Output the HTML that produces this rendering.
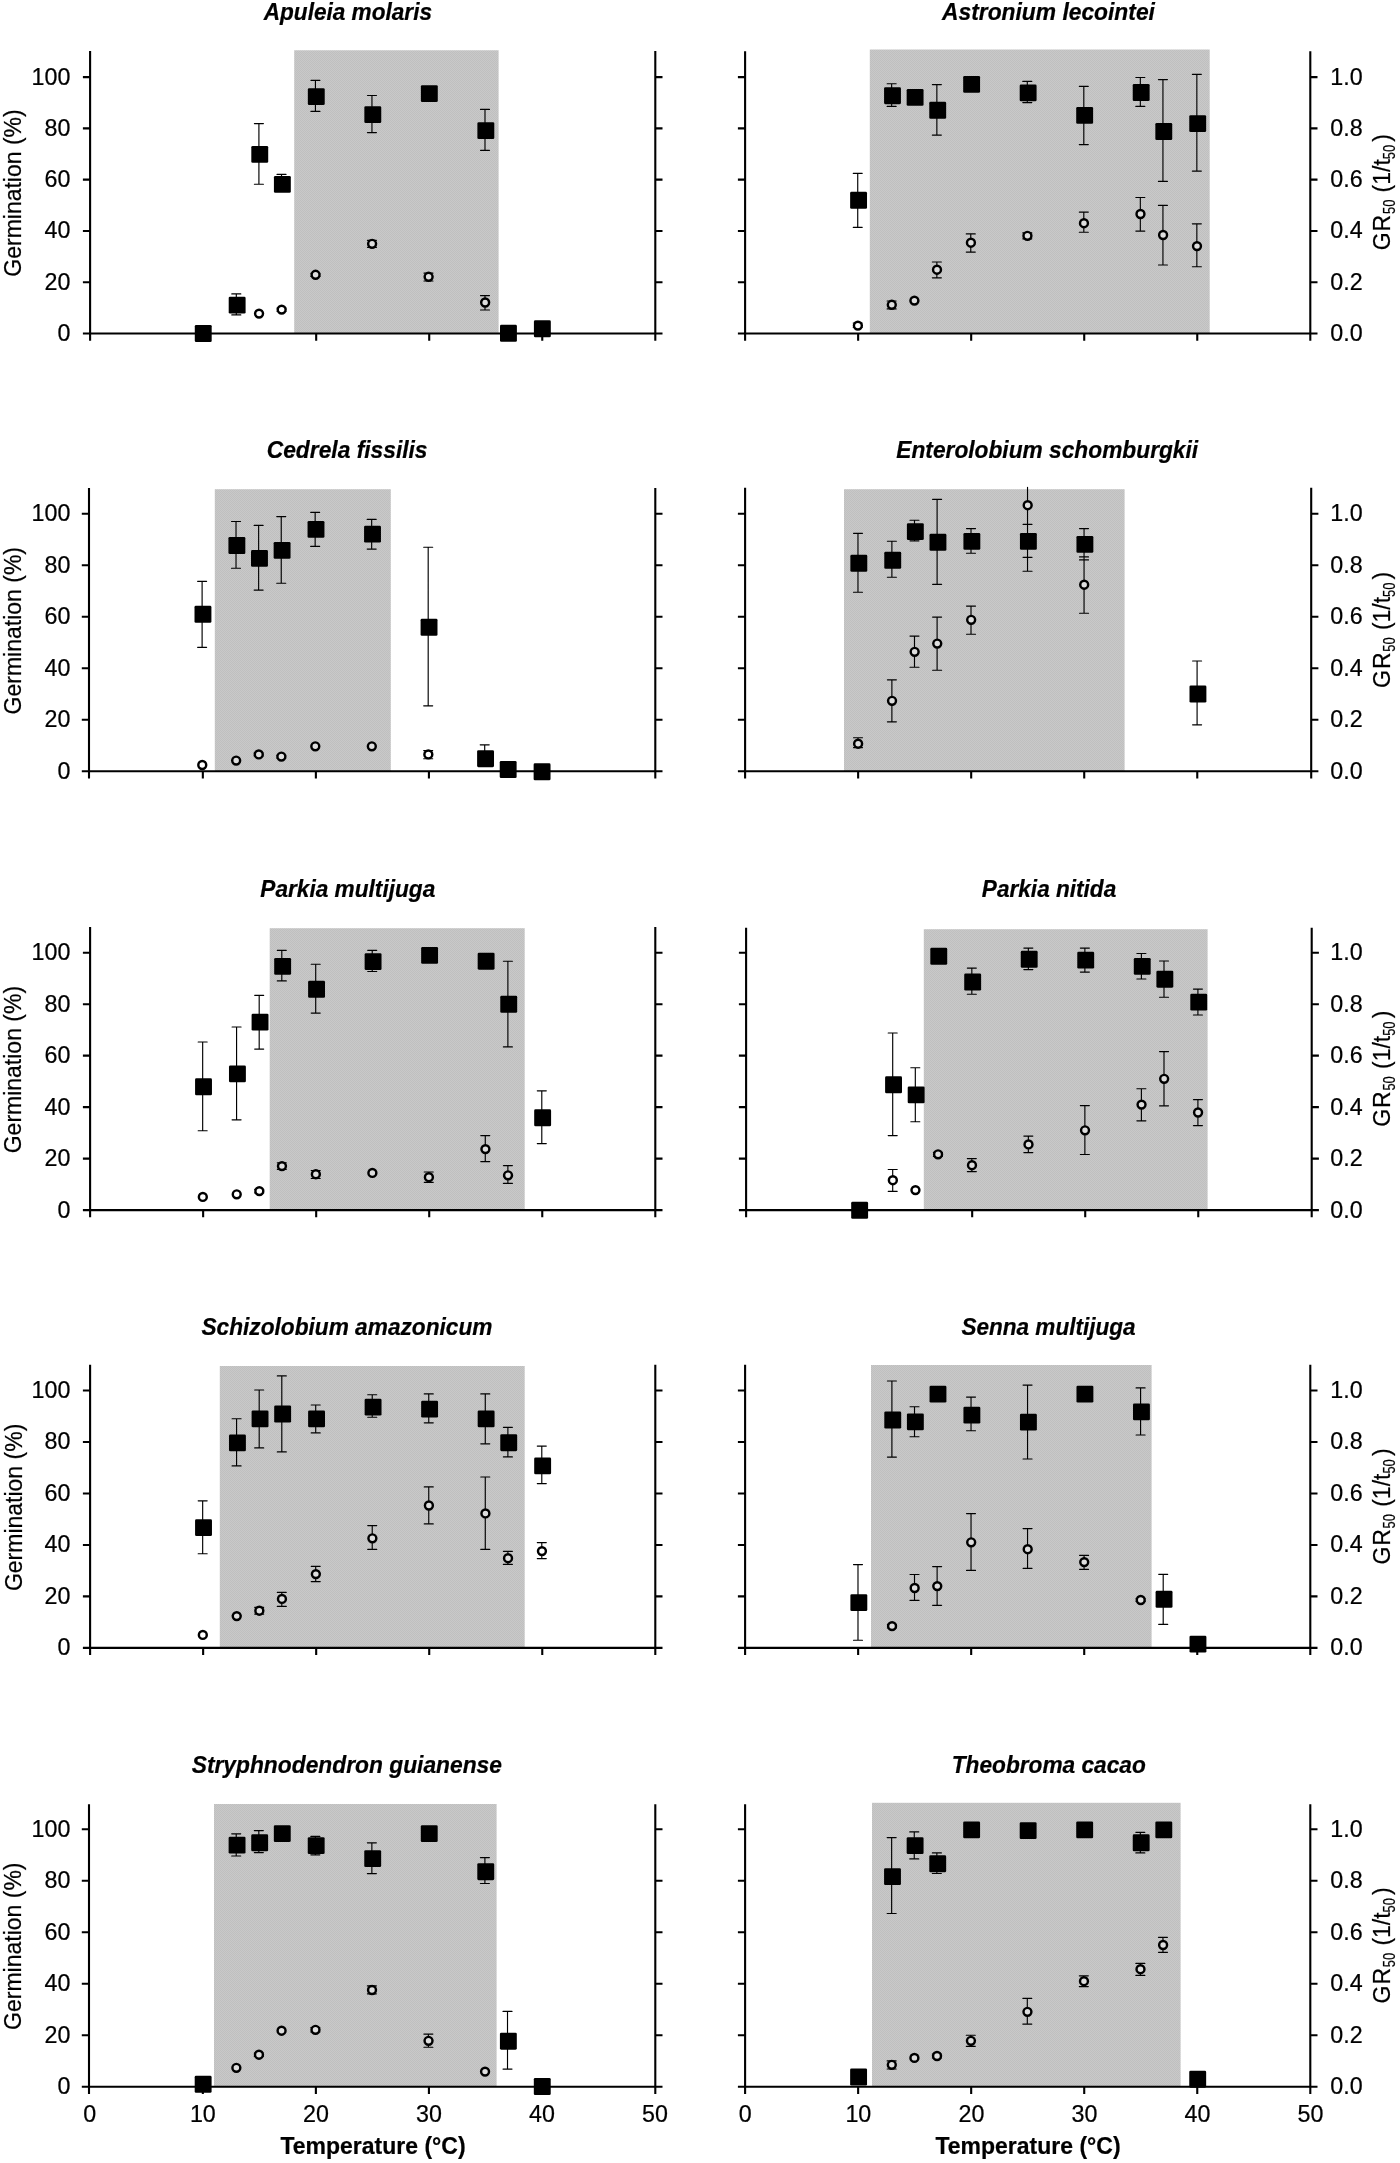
<!DOCTYPE html>
<html><head><meta charset="utf-8"><title>Germination vs temperature</title>
<style>html,body{margin:0;padding:0;background:#fff}svg{display:block}text{font-family:"Liberation Sans",sans-serif;fill:#000;stroke:#000;stroke-width:0.22px}</style>
</head><body>
<svg width="1400" height="2163" viewBox="0 0 1400 2163">
<rect width="1400" height="2163" fill="#fff"/>
<defs><pattern id="dg" width="2" height="2" patternUnits="userSpaceOnUse"><rect width="2" height="2" fill="#c9c9c9"/><rect width="1" height="1" fill="#bfbfbf"/><rect x="1" y="1" width="1" height="1" fill="#bfbfbf"/></pattern></defs>
<filter id="soft" x="0" y="0" width="1400" height="2163" filterUnits="userSpaceOnUse"><feGaussianBlur stdDeviation="0.38"/></filter>
<g filter="url(#soft)">
<g>
<rect x="294.2" y="50.25" width="204.4" height="283.25" fill="url(#dg)"/>
<path d="M90.1 51V340.7M655.3 51V340.7M82.9 333.5H662.5M82.9 282.22H90.1M655.3 282.22H662.5M82.9 230.94H90.1M655.3 230.94H662.5M82.9 179.66H90.1M655.3 179.66H662.5M82.9 128.38H90.1M655.3 128.38H662.5M82.9 77.1H90.1M655.3 77.1H662.5M203.14 333.5V340.7M316.18 333.5V340.7M429.22 333.5V340.7M542.26 333.5V340.7" stroke="#000" stroke-width="2.1" fill="none"/>
<path d="M236.3 293.9V314.9M231.8 293.9H240.8M231.8 314.9H240.8M258.91 123.6V184.2M254.41 123.6H263.41M254.41 184.2H263.41M281.52 174.4V190M277.02 174.4H286.02M277.02 190H286.02M315.43 80.3V111.4M310.93 80.3H319.93M310.93 111.4H319.93M371.95 95.5V132.6M367.45 95.5H376.45M367.45 132.6H376.45M484.99 109.4V150.3M480.49 109.4H489.49M480.49 150.3H489.49M281.52 308V311.2M277.02 308H286.02M277.02 311.2H286.02M315.43 273.2V276.4M310.93 273.2H319.93M310.93 276.4H319.93M371.95 240.3V247.3M367.45 240.3H376.45M367.45 247.3H376.45M428.47 273.1V281M423.97 273.1H432.97M423.97 281H432.97M484.99 295.6V310M480.49 295.6H489.49M480.49 310H489.49" stroke="#000" stroke-width="1.15" stroke-linecap="round" fill="none"/>
<circle cx="259.06" cy="313.6" r="3.95" fill="#fff" stroke="#000" stroke-width="2.45"/>
<circle cx="281.67" cy="309.6" r="3.95" fill="#fff" stroke="#000" stroke-width="2.45"/>
<circle cx="315.58" cy="274.8" r="3.95" fill="#dedede" stroke="#000" stroke-width="2.45"/>
<circle cx="372.1" cy="243.8" r="3.95" fill="#dedede" stroke="#000" stroke-width="2.45"/>
<circle cx="428.62" cy="276.8" r="3.95" fill="#dedede" stroke="#000" stroke-width="2.45"/>
<circle cx="485.14" cy="302.5" r="3.95" fill="#dedede" stroke="#000" stroke-width="2.45"/>
<g fill="#000"><rect x="194.79" y="325.05" width="16.9" height="16.9" rx="1.3"/><rect x="228.7" y="296.65" width="16.9" height="16.9" rx="1.3"/><rect x="251.31" y="145.95" width="16.9" height="16.9" rx="1.3"/><rect x="273.92" y="175.95" width="16.9" height="16.9" rx="1.3"/><rect x="307.83" y="88.15" width="16.9" height="16.9" rx="1.3"/><rect x="364.35" y="106.15" width="16.9" height="16.9" rx="1.3"/><rect x="420.87" y="85.15" width="16.9" height="16.9" rx="1.3"/><rect x="477.39" y="122.15" width="16.9" height="16.9" rx="1.3"/><rect x="500" y="324.85" width="16.9" height="16.9" rx="1.3"/><rect x="533.91" y="320.35" width="16.9" height="16.9" rx="1.3"/></g>
<text transform="translate(347.85,20.2) scale(1,1.045)" font-size="22.61" text-anchor="middle" font-weight="bold" font-style="italic" stroke="#000" stroke-width="0.4">Apuleia molaris</text>
<text transform="translate(70.5,340.9) scale(1,1.045)" font-size="23.3" text-anchor="end">0</text>
<text transform="translate(70.5,289.62) scale(1,1.045)" font-size="23.3" text-anchor="end">20</text>
<text transform="translate(70.5,238.34) scale(1,1.045)" font-size="23.3" text-anchor="end">40</text>
<text transform="translate(70.5,187.06) scale(1,1.045)" font-size="23.3" text-anchor="end">60</text>
<text transform="translate(70.5,135.78) scale(1,1.045)" font-size="23.3" text-anchor="end">80</text>
<text transform="translate(70.5,84.5) scale(1,1.045)" font-size="23.3" text-anchor="end">100</text>
<text transform="translate(21,193) rotate(-90) scale(1,1.045)" font-size="23" text-anchor="middle">Germination (%)</text>
</g>
<g>
<rect x="869.8" y="49.5" width="339.9" height="284" fill="url(#dg)"/>
<path d="M745.1 51.2V340.7M1310.3 51.2V340.7M737.9 333.5H1317.5M737.9 282.22H745.1M1310.3 282.22H1317.5M737.9 230.94H745.1M1310.3 230.94H1317.5M737.9 179.66H745.1M1310.3 179.66H1317.5M737.9 128.38H745.1M1310.3 128.38H1317.5M737.9 77.1H745.1M1310.3 77.1H1317.5M858.14 333.5V340.7M971.18 333.5V340.7M1084.22 333.5V340.7M1197.26 333.5V340.7" stroke="#000" stroke-width="2.1" fill="none"/>
<path d="M857.73 173.3V227.3M853.23 173.3H862.23M853.23 227.3H862.23M891.64 83.7V106.4M887.14 83.7H896.14M887.14 106.4H896.14M936.86 84.6V135.1M932.36 84.6H941.36M932.36 135.1H941.36M1027.29 81.4V102.6M1022.79 81.4H1031.79M1022.79 102.6H1031.79M1083.81 86.3V144.6M1079.31 86.3H1088.31M1079.31 144.6H1088.31M1140.33 77.5V106.4M1135.83 77.5H1144.83M1135.83 106.4H1144.83M1162.94 79.6V181.4M1158.44 79.6H1167.44M1158.44 181.4H1167.44M1196.85 74.3V171.1M1192.35 74.3H1201.35M1192.35 171.1H1201.35M857.73 323V327.2M853.23 323H862.23M853.23 327.2H862.23M891.64 301V308.9M887.14 301H896.14M887.14 308.9H896.14M936.86 262V277.8M932.36 262H941.36M932.36 277.8H941.36M970.77 233.9V252.1M966.27 233.9H975.27M966.27 252.1H975.27M1027.29 232.9V238.8M1022.79 232.9H1031.79M1022.79 238.8H1031.79M1083.81 212.1V232.2M1079.31 212.1H1088.31M1079.31 232.2H1088.31M1140.33 197.5V231.1M1135.83 197.5H1144.83M1135.83 231.1H1144.83M1162.94 205.4V265M1158.44 205.4H1167.44M1158.44 265H1167.44M1196.85 223.8V266.7M1192.35 223.8H1201.35M1192.35 266.7H1201.35" stroke="#000" stroke-width="1.15" stroke-linecap="round" fill="none"/>
<circle cx="857.88" cy="325.6" r="3.95" fill="#fff" stroke="#000" stroke-width="2.45"/>
<circle cx="891.79" cy="304.8" r="3.95" fill="#dedede" stroke="#000" stroke-width="2.45"/>
<circle cx="914.4" cy="300.6" r="3.95" fill="#dedede" stroke="#000" stroke-width="2.45"/>
<circle cx="937.01" cy="269.7" r="3.95" fill="#dedede" stroke="#000" stroke-width="2.45"/>
<circle cx="970.92" cy="242.7" r="3.95" fill="#dedede" stroke="#000" stroke-width="2.45"/>
<circle cx="1027.44" cy="235.8" r="3.95" fill="#dedede" stroke="#000" stroke-width="2.45"/>
<circle cx="1083.96" cy="223.2" r="3.95" fill="#dedede" stroke="#000" stroke-width="2.45"/>
<circle cx="1140.48" cy="214" r="3.95" fill="#dedede" stroke="#000" stroke-width="2.45"/>
<circle cx="1163.09" cy="235" r="3.95" fill="#dedede" stroke="#000" stroke-width="2.45"/>
<circle cx="1197" cy="246.1" r="3.95" fill="#dedede" stroke="#000" stroke-width="2.45"/>
<g fill="#000"><rect x="850.13" y="191.85" width="16.9" height="16.9" rx="1.3"/><rect x="884.04" y="87.25" width="16.9" height="16.9" rx="1.3"/><rect x="906.65" y="88.95" width="16.9" height="16.9" rx="1.3"/><rect x="929.26" y="101.85" width="16.9" height="16.9" rx="1.3"/><rect x="963.17" y="75.95" width="16.9" height="16.9" rx="1.3"/><rect x="1019.69" y="84.45" width="16.9" height="16.9" rx="1.3"/><rect x="1076.21" y="106.95" width="16.9" height="16.9" rx="1.3"/><rect x="1132.73" y="84.05" width="16.9" height="16.9" rx="1.3"/><rect x="1155.34" y="123.05" width="16.9" height="16.9" rx="1.3"/><rect x="1189.25" y="115.15" width="16.9" height="16.9" rx="1.3"/></g>
<text transform="translate(1048.45,20.2) scale(1,1.045)" font-size="22.82" text-anchor="middle" font-weight="bold" font-style="italic" stroke="#000" stroke-width="0.4">Astronium lecointei</text>
<text transform="translate(1330.2,340.9) scale(1,1.045)" font-size="23.3">0.0</text>
<text transform="translate(1330.2,289.62) scale(1,1.045)" font-size="23.3">0.2</text>
<text transform="translate(1330.2,238.34) scale(1,1.045)" font-size="23.3">0.4</text>
<text transform="translate(1330.2,187.06) scale(1,1.045)" font-size="23.3">0.6</text>
<text transform="translate(1330.2,135.78) scale(1,1.045)" font-size="23.3">0.8</text>
<text transform="translate(1330.2,84.5) scale(1,1.045)" font-size="23.3">1.0</text>
<text transform="translate(1390,192.1) rotate(-90) scale(1,1.045)" font-size="23" text-anchor="middle">G<tspan dx="0.9">R</tspan><tspan font-size="15.5" dy="4.9" dx="0.8" textLength="14.3" lengthAdjust="spacingAndGlyphs">50</tspan><tspan dy="-4.9" dx="0.9"> (1/t</tspan><tspan font-size="15.5" dy="4.9" textLength="14.3" lengthAdjust="spacingAndGlyphs">50</tspan><tspan dy="-4.9" dx="3.2">)</tspan></text>
</g>
<g>
<rect x="214.8" y="489.2" width="176" height="282" fill="url(#dg)"/>
<path d="M89 487.9V778.4M655.3 487.9V778.4M81.8 771.2H662.5M81.8 719.72H89M655.3 719.72H662.5M81.8 668.24H89M655.3 668.24H662.5M81.8 616.76H89M655.3 616.76H662.5M81.8 565.28H89M655.3 565.28H662.5M81.8 513.8H89M655.3 513.8H662.5M202.84 771.2V778.4M315.88 771.2V778.4M428.92 771.2V778.4M541.96 771.2V778.4" stroke="#000" stroke-width="2.1" fill="none"/>
<path d="M202.11 581.3V647.3M197.61 581.3H206.61M197.61 647.3H206.61M236.02 521.5V568.2M231.52 521.5H240.52M231.52 568.2H240.52M258.63 525.4V590.1M254.13 525.4H263.13M254.13 590.1H263.13M281.24 516.6V583.2M276.74 516.6H285.74M276.74 583.2H285.74M315.15 512.3V546.4M310.65 512.3H319.65M310.65 546.4H319.65M371.67 519.4V549.1M367.17 519.4H376.17M367.17 549.1H376.17M428.19 547.2V705.8M423.69 547.2H432.69M423.69 705.8H432.69M484.71 744.8V766.2M480.21 744.8H489.21M480.21 766.2H489.21M258.63 753V755.8M254.13 753H263.13M254.13 755.8H263.13M281.24 755.2V758M276.74 755.2H285.74M276.74 758H285.74M428.19 750.6V758.7M423.69 750.6H432.69M423.69 758.7H432.69" stroke="#000" stroke-width="1.15" stroke-linecap="round" fill="none"/>
<circle cx="202.26" cy="765" r="3.95" fill="#fff" stroke="#000" stroke-width="2.45"/>
<circle cx="236.17" cy="760.6" r="3.95" fill="#dedede" stroke="#000" stroke-width="2.45"/>
<circle cx="258.78" cy="754.4" r="3.95" fill="#dedede" stroke="#000" stroke-width="2.45"/>
<circle cx="281.39" cy="756.6" r="3.95" fill="#dedede" stroke="#000" stroke-width="2.45"/>
<circle cx="315.3" cy="746.3" r="3.95" fill="#dedede" stroke="#000" stroke-width="2.45"/>
<circle cx="371.82" cy="746.3" r="3.95" fill="#dedede" stroke="#000" stroke-width="2.45"/>
<circle cx="428.34" cy="754.4" r="3.95" fill="#fff" stroke="#000" stroke-width="2.45"/>
<g fill="#000"><rect x="194.51" y="605.85" width="16.9" height="16.9" rx="1.3"/><rect x="228.42" y="537.05" width="16.9" height="16.9" rx="1.3"/><rect x="251.03" y="549.95" width="16.9" height="16.9" rx="1.3"/><rect x="273.64" y="541.95" width="16.9" height="16.9" rx="1.3"/><rect x="307.55" y="520.95" width="16.9" height="16.9" rx="1.3"/><rect x="364.07" y="525.65" width="16.9" height="16.9" rx="1.3"/><rect x="420.59" y="618.85" width="16.9" height="16.9" rx="1.3"/><rect x="477.11" y="750.25" width="16.9" height="16.9" rx="1.3"/><rect x="499.72" y="761.05" width="16.9" height="16.9" rx="1.3"/><rect x="533.63" y="763.35" width="16.9" height="16.9" rx="1.3"/></g>
<text transform="translate(347.15,457.9) scale(1,1.045)" font-size="22.79" text-anchor="middle" font-weight="bold" font-style="italic" stroke="#000" stroke-width="0.4">Cedrela fissilis</text>
<text transform="translate(70.5,778.6) scale(1,1.045)" font-size="23.3" text-anchor="end">0</text>
<text transform="translate(70.5,727.12) scale(1,1.045)" font-size="23.3" text-anchor="end">20</text>
<text transform="translate(70.5,675.64) scale(1,1.045)" font-size="23.3" text-anchor="end">40</text>
<text transform="translate(70.5,624.16) scale(1,1.045)" font-size="23.3" text-anchor="end">60</text>
<text transform="translate(70.5,572.68) scale(1,1.045)" font-size="23.3" text-anchor="end">80</text>
<text transform="translate(70.5,521.2) scale(1,1.045)" font-size="23.3" text-anchor="end">100</text>
<text transform="translate(21.35,630.7) rotate(-90) scale(1,1.045)" font-size="23" text-anchor="middle">Germination (%)</text>
</g>
<g>
<rect x="844" y="489.2" width="280.6" height="282" fill="url(#dg)"/>
<path d="M745.1 487.8V778.4M1311.2 487.8V778.4M737.9 771.2H1318.4M737.9 719.72H745.1M1311.2 719.72H1318.4M737.9 668.24H745.1M1311.2 668.24H1318.4M737.9 616.76H745.1M1311.2 616.76H1318.4M737.9 565.28H745.1M1311.2 565.28H1318.4M737.9 513.8H745.1M1311.2 513.8H1318.4M858.14 771.2V778.4M971.18 771.2V778.4M1084.22 771.2V778.4M1197.26 771.2V778.4" stroke="#000" stroke-width="2.1" fill="none"/>
<path d="M857.97 533.3V592.2M853.47 533.3H862.47M853.47 592.2H862.47M891.88 541.2V577.2M887.38 541.2H896.38M887.38 577.2H896.38M914.49 520.2V540.8M909.99 520.2H918.99M909.99 540.8H918.99M937.1 499.4V584.3M932.6 499.4H941.6M932.6 584.3H941.6M971.01 528.6V553.2M966.51 528.6H975.51M966.51 553.2H975.51M1027.53 524.3V557.3M1023.03 524.3H1032.03M1023.03 557.3H1032.03M1084.05 528.6V559.9M1079.55 528.6H1088.55M1079.55 559.9H1088.55M1197.09 661V724.8M1192.59 661H1201.59M1192.59 724.8H1201.59M857.97 737.7V747.6M853.47 737.7H862.47M853.47 747.6H862.47M891.88 679.8V721.8M887.38 679.8H896.38M887.38 721.8H896.38M914.49 636.1V667.2M909.99 636.1H918.99M909.99 667.2H918.99M937.1 617.1V670.2M932.6 617.1H941.6M932.6 670.2H941.6M971.01 606.1V634.2M966.51 606.1H975.51M966.51 634.2H975.51M1027.53 487.3V571.2M1023.03 571.2H1032.03M1084.05 556.9V613.2M1079.55 556.9H1088.55M1079.55 613.2H1088.55" stroke="#000" stroke-width="1.15" stroke-linecap="round" fill="none"/>
<circle cx="858.12" cy="743.7" r="3.95" fill="#dedede" stroke="#000" stroke-width="2.45"/>
<circle cx="892.03" cy="700.8" r="3.95" fill="#dedede" stroke="#000" stroke-width="2.45"/>
<circle cx="914.64" cy="651.8" r="3.95" fill="#dedede" stroke="#000" stroke-width="2.45"/>
<circle cx="937.25" cy="643.6" r="3.95" fill="#dedede" stroke="#000" stroke-width="2.45"/>
<circle cx="971.16" cy="619.8" r="3.95" fill="#dedede" stroke="#000" stroke-width="2.45"/>
<circle cx="1027.68" cy="505.2" r="3.95" fill="#dedede" stroke="#000" stroke-width="2.45"/>
<circle cx="1084.2" cy="584.7" r="3.95" fill="#dedede" stroke="#000" stroke-width="2.45"/>
<g fill="#000"><rect x="850.37" y="554.85" width="16.9" height="16.9" rx="1.3"/><rect x="884.28" y="551.85" width="16.9" height="16.9" rx="1.3"/><rect x="906.89" y="523.15" width="16.9" height="16.9" rx="1.3"/><rect x="929.5" y="533.85" width="16.9" height="16.9" rx="1.3"/><rect x="963.41" y="532.95" width="16.9" height="16.9" rx="1.3"/><rect x="1019.93" y="532.95" width="16.9" height="16.9" rx="1.3"/><rect x="1076.45" y="535.95" width="16.9" height="16.9" rx="1.3"/><rect x="1189.49" y="685.55" width="16.9" height="16.9" rx="1.3"/></g>
<text transform="translate(1047.2,457.9) scale(1,1.045)" font-size="22.74" text-anchor="middle" font-weight="bold" font-style="italic" stroke="#000" stroke-width="0.4">Enterolobium schomburgkii</text>
<text transform="translate(1330.2,778.6) scale(1,1.045)" font-size="23.3">0.0</text>
<text transform="translate(1330.2,727.12) scale(1,1.045)" font-size="23.3">0.2</text>
<text transform="translate(1330.2,675.64) scale(1,1.045)" font-size="23.3">0.4</text>
<text transform="translate(1330.2,624.16) scale(1,1.045)" font-size="23.3">0.6</text>
<text transform="translate(1330.2,572.68) scale(1,1.045)" font-size="23.3">0.8</text>
<text transform="translate(1330.2,521.2) scale(1,1.045)" font-size="23.3">1.0</text>
<text transform="translate(1390,629.8) rotate(-90) scale(1,1.045)" font-size="23" text-anchor="middle">G<tspan dx="0.9">R</tspan><tspan font-size="15.5" dy="4.9" dx="0.8" textLength="14.3" lengthAdjust="spacingAndGlyphs">50</tspan><tspan dy="-4.9" dx="0.9"> (1/t</tspan><tspan font-size="15.5" dy="4.9" textLength="14.3" lengthAdjust="spacingAndGlyphs">50</tspan><tspan dy="-4.9" dx="3.2">)</tspan></text>
</g>
<g>
<rect x="269.7" y="928.2" width="255" height="281.9" fill="url(#dg)"/>
<path d="M90.1 927V1217.3M655.3 927V1217.3M82.9 1210.1H662.5M82.9 1158.62H90.1M655.3 1158.62H662.5M82.9 1107.14H90.1M655.3 1107.14H662.5M82.9 1055.66H90.1M655.3 1055.66H662.5M82.9 1004.18H90.1M655.3 1004.18H662.5M82.9 952.7H90.1M655.3 952.7H662.5M203.14 1210.1V1217.3M316.18 1210.1V1217.3M429.22 1210.1V1217.3M542.26 1210.1V1217.3" stroke="#000" stroke-width="2.1" fill="none"/>
<path d="M202.67 1042V1130.7M198.17 1042H207.17M198.17 1130.7H207.17M236.58 1027V1119.8M232.08 1027H241.08M232.08 1119.8H241.08M259.19 995.3V1049.1M254.69 995.3H263.69M254.69 1049.1H263.69M281.8 950.3V980.9M277.3 950.3H286.3M277.3 980.9H286.3M315.71 964.2V1013.1M311.21 964.2H320.21M311.21 1013.1H320.21M372.23 950.3V971.5M367.73 950.3H376.73M367.73 971.5H376.73M507.88 961.2V1046.9M503.38 961.2H512.38M503.38 1046.9H512.38M541.79 1090.8V1143.6M537.29 1090.8H546.29M537.29 1143.6H546.29M259.19 1189.3V1192.9M254.69 1189.3H263.69M254.69 1192.9H263.69M281.8 1162.8V1169.3M277.3 1162.8H286.3M277.3 1169.3H286.3M315.71 1170.5V1178.5M311.21 1170.5H320.21M311.21 1178.5H320.21M428.75 1172V1182.3M424.25 1172H433.25M424.25 1182.3H433.25M485.27 1135.6V1161.6M480.77 1135.6H489.77M480.77 1161.6H489.77M507.88 1165.6V1183.4M503.38 1165.6H512.38M503.38 1183.4H512.38" stroke="#000" stroke-width="1.15" stroke-linecap="round" fill="none"/>
<circle cx="202.82" cy="1196.9" r="3.95" fill="#fff" stroke="#000" stroke-width="2.45"/>
<circle cx="236.73" cy="1194.3" r="3.95" fill="#fff" stroke="#000" stroke-width="2.45"/>
<circle cx="259.34" cy="1191.1" r="3.95" fill="#fff" stroke="#000" stroke-width="2.45"/>
<circle cx="281.95" cy="1166.1" r="3.95" fill="#dedede" stroke="#000" stroke-width="2.45"/>
<circle cx="315.86" cy="1174.2" r="3.95" fill="#dedede" stroke="#000" stroke-width="2.45"/>
<circle cx="372.38" cy="1172.9" r="3.95" fill="#dedede" stroke="#000" stroke-width="2.45"/>
<circle cx="428.9" cy="1177.2" r="3.95" fill="#dedede" stroke="#000" stroke-width="2.45"/>
<circle cx="485.42" cy="1149.1" r="3.95" fill="#dedede" stroke="#000" stroke-width="2.45"/>
<circle cx="508.03" cy="1175.3" r="3.95" fill="#dedede" stroke="#000" stroke-width="2.45"/>
<g fill="#000"><rect x="195.07" y="1078.35" width="16.9" height="16.9" rx="1.3"/><rect x="228.98" y="1065.45" width="16.9" height="16.9" rx="1.3"/><rect x="251.59" y="1013.65" width="16.9" height="16.9" rx="1.3"/><rect x="274.2" y="957.95" width="16.9" height="16.9" rx="1.3"/><rect x="308.11" y="980.85" width="16.9" height="16.9" rx="1.3"/><rect x="364.63" y="953.15" width="16.9" height="16.9" rx="1.3"/><rect x="421.15" y="946.95" width="16.9" height="16.9" rx="1.3"/><rect x="477.67" y="952.75" width="16.9" height="16.9" rx="1.3"/><rect x="500.28" y="995.85" width="16.9" height="16.9" rx="1.3"/><rect x="534.19" y="1109.35" width="16.9" height="16.9" rx="1.3"/></g>
<text transform="translate(347.8,896.8) scale(1,1.045)" font-size="22.65" text-anchor="middle" font-weight="bold" font-style="italic" stroke="#000" stroke-width="0.4">Parkia multijuga</text>
<text transform="translate(70.5,1217.5) scale(1,1.045)" font-size="23.3" text-anchor="end">0</text>
<text transform="translate(70.5,1166.02) scale(1,1.045)" font-size="23.3" text-anchor="end">20</text>
<text transform="translate(70.5,1114.54) scale(1,1.045)" font-size="23.3" text-anchor="end">40</text>
<text transform="translate(70.5,1063.06) scale(1,1.045)" font-size="23.3" text-anchor="end">60</text>
<text transform="translate(70.5,1011.58) scale(1,1.045)" font-size="23.3" text-anchor="end">80</text>
<text transform="translate(70.5,960.1) scale(1,1.045)" font-size="23.3" text-anchor="end">100</text>
<text transform="translate(21.35,1069.6) rotate(-90) scale(1,1.045)" font-size="23" text-anchor="middle">Germination (%)</text>
</g>
<g>
<rect x="923.8" y="929.2" width="283.8" height="280.9" fill="url(#dg)"/>
<path d="M746.1 927.8V1217.3M1311.7 927.8V1217.3M738.9 1210.1H1318.9M738.9 1158.62H746.1M1311.7 1158.62H1318.9M738.9 1107.14H746.1M1311.7 1107.14H1318.9M738.9 1055.66H746.1M1311.7 1055.66H1318.9M738.9 1004.18H746.1M1311.7 1004.18H1318.9M738.9 952.7H746.1M1311.7 952.7H1318.9M859.14 1210.1V1217.3M972.18 1210.1V1217.3M1085.22 1210.1V1217.3M1198.26 1210.1V1217.3" stroke="#000" stroke-width="2.1" fill="none"/>
<path d="M892.7 1033V1135.6M888.2 1033H897.2M888.2 1135.6H897.2M915.31 1067.7V1121.7M910.81 1067.7H919.81M910.81 1121.7H919.81M971.83 968.1V994.2M967.33 968.1H976.33M967.33 994.2H976.33M1028.35 948.1V969.6M1023.85 948.1H1032.85M1023.85 969.6H1032.85M1084.87 948.1V972.1M1080.37 948.1H1089.37M1080.37 972.1H1089.37M1141.39 953.5V979M1136.89 953.5H1145.89M1136.89 979H1145.89M1164 961V997.2M1159.5 961H1168.5M1159.5 997.2H1168.5M1197.91 989.1V1015M1193.41 989.1H1202.41M1193.41 1015H1202.41M892.7 1169.5V1191.3M888.2 1169.5H897.2M888.2 1191.3H897.2M937.92 1152.3V1156.3M933.42 1152.3H942.42M933.42 1156.3H942.42M971.83 1158.6V1171.6M967.33 1158.6H976.33M967.33 1171.6H976.33M1028.35 1136.1V1152.6M1023.85 1136.1H1032.85M1023.85 1152.6H1032.85M1084.87 1105.6V1154.5M1080.37 1105.6H1089.37M1080.37 1154.5H1089.37M1141.39 1088.7V1120.8M1136.89 1088.7H1145.89M1136.89 1120.8H1145.89M1164 1051.6V1105.8M1159.5 1051.6H1168.5M1159.5 1105.8H1168.5M1197.91 1099.6V1125.6M1193.41 1099.6H1202.41M1193.41 1125.6H1202.41" stroke="#000" stroke-width="1.15" stroke-linecap="round" fill="none"/>
<circle cx="892.85" cy="1180.2" r="3.95" fill="#fff" stroke="#000" stroke-width="2.45"/>
<circle cx="915.46" cy="1190.1" r="3.95" fill="#fff" stroke="#000" stroke-width="2.45"/>
<circle cx="938.07" cy="1154.3" r="3.95" fill="#dedede" stroke="#000" stroke-width="2.45"/>
<circle cx="971.98" cy="1165.2" r="3.95" fill="#dedede" stroke="#000" stroke-width="2.45"/>
<circle cx="1028.5" cy="1144.4" r="3.95" fill="#dedede" stroke="#000" stroke-width="2.45"/>
<circle cx="1085.02" cy="1130.3" r="3.95" fill="#dedede" stroke="#000" stroke-width="2.45"/>
<circle cx="1141.54" cy="1104.6" r="3.95" fill="#dedede" stroke="#000" stroke-width="2.45"/>
<circle cx="1164.15" cy="1078.8" r="3.95" fill="#dedede" stroke="#000" stroke-width="2.45"/>
<circle cx="1198.06" cy="1112.5" r="3.95" fill="#dedede" stroke="#000" stroke-width="2.45"/>
<g fill="#000"><rect x="851.19" y="1201.85" width="16.9" height="16.9" rx="1.3"/><rect x="885.1" y="1076.35" width="16.9" height="16.9" rx="1.3"/><rect x="907.71" y="1086.45" width="16.9" height="16.9" rx="1.3"/><rect x="930.32" y="947.85" width="16.9" height="16.9" rx="1.3"/><rect x="964.23" y="973.55" width="16.9" height="16.9" rx="1.3"/><rect x="1020.75" y="950.85" width="16.9" height="16.9" rx="1.3"/><rect x="1077.27" y="951.65" width="16.9" height="16.9" rx="1.3"/><rect x="1133.79" y="957.95" width="16.9" height="16.9" rx="1.3"/><rect x="1156.4" y="970.75" width="16.9" height="16.9" rx="1.3"/><rect x="1190.31" y="993.65" width="16.9" height="16.9" rx="1.3"/></g>
<text transform="translate(1049.05,896.8) scale(1,1.045)" font-size="22.6" text-anchor="middle" font-weight="bold" font-style="italic" stroke="#000" stroke-width="0.4">Parkia nitida</text>
<text transform="translate(1330.2,1217.5) scale(1,1.045)" font-size="23.3">0.0</text>
<text transform="translate(1330.2,1166.02) scale(1,1.045)" font-size="23.3">0.2</text>
<text transform="translate(1330.2,1114.54) scale(1,1.045)" font-size="23.3">0.4</text>
<text transform="translate(1330.2,1063.06) scale(1,1.045)" font-size="23.3">0.6</text>
<text transform="translate(1330.2,1011.58) scale(1,1.045)" font-size="23.3">0.8</text>
<text transform="translate(1330.2,960.1) scale(1,1.045)" font-size="23.3">1.0</text>
<text transform="translate(1390,1068.7) rotate(-90) scale(1,1.045)" font-size="23" text-anchor="middle">G<tspan dx="0.9">R</tspan><tspan font-size="15.5" dy="4.9" dx="0.8" textLength="14.3" lengthAdjust="spacingAndGlyphs">50</tspan><tspan dy="-4.9" dx="0.9"> (1/t</tspan><tspan font-size="15.5" dy="4.9" textLength="14.3" lengthAdjust="spacingAndGlyphs">50</tspan><tspan dy="-4.9" dx="3.2">)</tspan></text>
</g>
<g>
<rect x="219.8" y="1366" width="304.9" height="281.9" fill="url(#dg)"/>
<path d="M90.1 1364.7V1655.1M655.3 1364.7V1655.1M82.9 1647.9H662.5M82.9 1596.42H90.1M655.3 1596.42H662.5M82.9 1544.94H90.1M655.3 1544.94H662.5M82.9 1493.46H90.1M655.3 1493.46H662.5M82.9 1441.98H90.1M655.3 1441.98H662.5M82.9 1390.5H90.1M655.3 1390.5H662.5M203.14 1647.9V1655.1M316.18 1647.9V1655.1M429.22 1647.9V1655.1M542.26 1647.9V1655.1" stroke="#000" stroke-width="2.1" fill="none"/>
<path d="M202.67 1500.8V1553.7M198.17 1500.8H207.17M198.17 1553.7H207.17M236.58 1418.7V1465.9M232.08 1418.7H241.08M232.08 1465.9H241.08M259.19 1390V1447.9M254.69 1390H263.69M254.69 1447.9H263.69M281.8 1375.9V1451.9M277.3 1375.9H286.3M277.3 1451.9H286.3M315.71 1405V1432.9M311.21 1405H320.21M311.21 1432.9H320.21M372.23 1394.7V1417.2M367.73 1394.7H376.73M367.73 1417.2H376.73M428.75 1393.9V1422.8M424.25 1393.9H433.25M424.25 1422.8H433.25M485.27 1393.9V1443.8M480.77 1393.9H489.77M480.77 1443.8H489.77M507.88 1427.3V1456.9M503.38 1427.3H512.38M503.38 1456.9H512.38M541.79 1446.1V1483.6M537.29 1446.1H546.29M537.29 1483.6H546.29M259.19 1607.3V1614.1M254.69 1607.3H263.69M254.69 1614.1H263.69M281.8 1592.3V1606.4M277.3 1592.3H286.3M277.3 1606.4H286.3M315.71 1566.3V1581.6M311.21 1566.3H320.21M311.21 1581.6H320.21M372.23 1525.6V1549.4M367.73 1525.6H376.73M367.73 1549.4H376.73M428.75 1486.9V1523.9M424.25 1486.9H433.25M424.25 1523.9H433.25M485.27 1477V1549.4M480.77 1477H489.77M480.77 1549.4H489.77M507.88 1551.3V1564.4M503.38 1551.3H512.38M503.38 1564.4H512.38M541.79 1542.6V1558.6M537.29 1542.6H546.29M537.29 1558.6H546.29" stroke="#000" stroke-width="1.15" stroke-linecap="round" fill="none"/>
<circle cx="202.82" cy="1634.9" r="3.95" fill="#fff" stroke="#000" stroke-width="2.45"/>
<circle cx="236.73" cy="1616.1" r="3.95" fill="#dedede" stroke="#000" stroke-width="2.45"/>
<circle cx="259.34" cy="1610.7" r="3.95" fill="#dedede" stroke="#000" stroke-width="2.45"/>
<circle cx="281.95" cy="1598.9" r="3.95" fill="#dedede" stroke="#000" stroke-width="2.45"/>
<circle cx="315.86" cy="1574.1" r="3.95" fill="#dedede" stroke="#000" stroke-width="2.45"/>
<circle cx="372.38" cy="1538.3" r="3.95" fill="#dedede" stroke="#000" stroke-width="2.45"/>
<circle cx="428.9" cy="1505.5" r="3.95" fill="#dedede" stroke="#000" stroke-width="2.45"/>
<circle cx="485.42" cy="1513.4" r="3.95" fill="#dedede" stroke="#000" stroke-width="2.45"/>
<circle cx="508.03" cy="1558.2" r="3.95" fill="#dedede" stroke="#000" stroke-width="2.45"/>
<circle cx="541.94" cy="1551.1" r="3.95" fill="#fff" stroke="#000" stroke-width="2.45"/>
<g fill="#000"><rect x="195.07" y="1519.15" width="16.9" height="16.9" rx="1.3"/><rect x="228.98" y="1434.45" width="16.9" height="16.9" rx="1.3"/><rect x="251.59" y="1410.45" width="16.9" height="16.9" rx="1.3"/><rect x="274.2" y="1405.55" width="16.9" height="16.9" rx="1.3"/><rect x="308.11" y="1410.45" width="16.9" height="16.9" rx="1.3"/><rect x="364.63" y="1398.65" width="16.9" height="16.9" rx="1.3"/><rect x="421.15" y="1400.65" width="16.9" height="16.9" rx="1.3"/><rect x="477.67" y="1410.45" width="16.9" height="16.9" rx="1.3"/><rect x="500.28" y="1434.25" width="16.9" height="16.9" rx="1.3"/><rect x="534.19" y="1457.45" width="16.9" height="16.9" rx="1.3"/></g>
<text transform="translate(346.95,1334.6) scale(1,1.045)" font-size="22.69" text-anchor="middle" font-weight="bold" font-style="italic" stroke="#000" stroke-width="0.4">Schizolobium amazonicum</text>
<text transform="translate(70.5,1655.3) scale(1,1.045)" font-size="23.3" text-anchor="end">0</text>
<text transform="translate(70.5,1603.82) scale(1,1.045)" font-size="23.3" text-anchor="end">20</text>
<text transform="translate(70.5,1552.34) scale(1,1.045)" font-size="23.3" text-anchor="end">40</text>
<text transform="translate(70.5,1500.86) scale(1,1.045)" font-size="23.3" text-anchor="end">60</text>
<text transform="translate(70.5,1449.38) scale(1,1.045)" font-size="23.3" text-anchor="end">80</text>
<text transform="translate(70.5,1397.9) scale(1,1.045)" font-size="23.3" text-anchor="end">100</text>
<text transform="translate(21.7,1507.4) rotate(-90) scale(1,1.045)" font-size="23" text-anchor="middle">Germination (%)</text>
</g>
<g>
<rect x="871" y="1365" width="280.6" height="282.9" fill="url(#dg)"/>
<path d="M745.1 1364.7V1655.1M1310.3 1364.7V1655.1M737.9 1647.9H1317.5M737.9 1596.42H745.1M1310.3 1596.42H1317.5M737.9 1544.94H745.1M1310.3 1544.94H1317.5M737.9 1493.46H745.1M1310.3 1493.46H1317.5M737.9 1441.98H745.1M1310.3 1441.98H1317.5M737.9 1390.5H745.1M1310.3 1390.5H1317.5M858.14 1647.9V1655.1M971.18 1647.9V1655.1M1084.22 1647.9V1655.1M1197.26 1647.9V1655.1" stroke="#000" stroke-width="2.1" fill="none"/>
<path d="M857.99 1564.6V1640.2M853.49 1564.6H862.49M853.49 1640.2H862.49M891.9 1381V1457.1M887.4 1381H896.4M887.4 1457.1H896.4M914.51 1406.7V1436.7M910.01 1406.7H919.01M910.01 1436.7H919.01M971.03 1397.1V1430.7M966.53 1397.1H975.53M966.53 1430.7H975.53M1027.55 1385.1V1459M1023.05 1385.1H1032.05M1023.05 1459H1032.05M1140.59 1387.9V1435M1136.09 1387.9H1145.09M1136.09 1435H1145.09M1163.2 1574.3V1624.4M1158.7 1574.3H1167.7M1158.7 1624.4H1167.7M891.9 1624.3V1627.9M887.4 1624.3H896.4M887.4 1627.9H896.4M914.51 1574.5V1600.4M910.01 1574.5H919.01M910.01 1600.4H919.01M937.12 1566.6V1605.3M932.62 1566.6H941.62M932.62 1605.3H941.62M971.03 1513.6V1570.4M966.53 1513.6H975.53M966.53 1570.4H975.53M1027.55 1528.6V1568.3M1023.05 1528.6H1032.05M1023.05 1568.3H1032.05M1084.07 1555.4V1569.3M1079.57 1555.4H1088.57M1079.57 1569.3H1088.57M1140.59 1598.6V1601.4M1136.09 1598.6H1145.09M1136.09 1601.4H1145.09" stroke="#000" stroke-width="1.15" stroke-linecap="round" fill="none"/>
<circle cx="892.05" cy="1626.1" r="3.95" fill="#dedede" stroke="#000" stroke-width="2.45"/>
<circle cx="914.66" cy="1588" r="3.95" fill="#dedede" stroke="#000" stroke-width="2.45"/>
<circle cx="937.27" cy="1586.1" r="3.95" fill="#dedede" stroke="#000" stroke-width="2.45"/>
<circle cx="971.18" cy="1542.3" r="3.95" fill="#dedede" stroke="#000" stroke-width="2.45"/>
<circle cx="1027.7" cy="1549.2" r="3.95" fill="#dedede" stroke="#000" stroke-width="2.45"/>
<circle cx="1084.22" cy="1562.1" r="3.95" fill="#dedede" stroke="#000" stroke-width="2.45"/>
<circle cx="1140.74" cy="1600" r="3.95" fill="#dedede" stroke="#000" stroke-width="2.45"/>
<g fill="#000"><rect x="850.39" y="1594.15" width="16.9" height="16.9" rx="1.3"/><rect x="884.3" y="1411.55" width="16.9" height="16.9" rx="1.3"/><rect x="906.91" y="1413.45" width="16.9" height="16.9" rx="1.3"/><rect x="929.52" y="1385.65" width="16.9" height="16.9" rx="1.3"/><rect x="963.43" y="1406.65" width="16.9" height="16.9" rx="1.3"/><rect x="1019.95" y="1413.65" width="16.9" height="16.9" rx="1.3"/><rect x="1076.47" y="1385.65" width="16.9" height="16.9" rx="1.3"/><rect x="1132.99" y="1403.45" width="16.9" height="16.9" rx="1.3"/><rect x="1155.6" y="1590.85" width="16.9" height="16.9" rx="1.3"/><rect x="1189.51" y="1635.65" width="16.9" height="16.9" rx="1.3"/></g>
<text transform="translate(1048.5,1334.6) scale(1,1.045)" font-size="22.55" text-anchor="middle" font-weight="bold" font-style="italic" stroke="#000" stroke-width="0.4">Senna multijuga</text>
<text transform="translate(1330.2,1655.3) scale(1,1.045)" font-size="23.3">0.0</text>
<text transform="translate(1330.2,1603.82) scale(1,1.045)" font-size="23.3">0.2</text>
<text transform="translate(1330.2,1552.34) scale(1,1.045)" font-size="23.3">0.4</text>
<text transform="translate(1330.2,1500.86) scale(1,1.045)" font-size="23.3">0.6</text>
<text transform="translate(1330.2,1449.38) scale(1,1.045)" font-size="23.3">0.8</text>
<text transform="translate(1330.2,1397.9) scale(1,1.045)" font-size="23.3">1.0</text>
<text transform="translate(1390,1506.5) rotate(-90) scale(1,1.045)" font-size="23" text-anchor="middle">G<tspan dx="0.9">R</tspan><tspan font-size="15.5" dy="4.9" dx="0.8" textLength="14.3" lengthAdjust="spacingAndGlyphs">50</tspan><tspan dy="-4.9" dx="0.9"> (1/t</tspan><tspan font-size="15.5" dy="4.9" textLength="14.3" lengthAdjust="spacingAndGlyphs">50</tspan><tspan dy="-4.9" dx="3.2">)</tspan></text>
</g>
<g>
<rect x="214" y="1804" width="282.6" height="282.7" fill="url(#dg)"/>
<path d="M89 1804.3V2093.9M655.3 1804.3V2093.9M81.8 2086.7H662.5M81.8 2035.22H89M655.3 2035.22H662.5M81.8 1983.74H89M655.3 1983.74H662.5M81.8 1932.26H89M655.3 1932.26H662.5M81.8 1880.78H89M655.3 1880.78H662.5M81.8 1829.3H89M655.3 1829.3H662.5M202.84 2086.7V2093.9M315.88 2086.7V2093.9M428.92 2086.7V2093.9M541.96 2086.7V2093.9" stroke="#000" stroke-width="2.1" fill="none"/>
<path d="M236.21 1833.8V1856M231.71 1833.8H240.71M231.71 1856H240.71M258.82 1830.6V1852.6M254.32 1830.6H263.32M254.32 1852.6H263.32M315.34 1836.4V1854.8M310.84 1836.4H319.84M310.84 1854.8H319.84M371.86 1842.8V1873.6M367.36 1842.8H376.36M367.36 1873.6H376.36M484.9 1857.6V1883.5M480.4 1857.6H489.4M480.4 1883.5H489.4M507.51 2011.4V2069.1M503.01 2011.4H512.01M503.01 2069.1H512.01M258.82 2053V2056.4M254.32 2053H263.32M254.32 2056.4H263.32M315.34 2027.6V2032M310.84 2027.6H319.84M310.84 2032H319.84M371.86 1985.9V1993.8M367.36 1985.9H376.36M367.36 1993.8H376.36M428.38 2034.1V2047.2M423.88 2034.1H432.88M423.88 2047.2H432.88" stroke="#000" stroke-width="1.15" stroke-linecap="round" fill="none"/>
<circle cx="236.36" cy="2067.8" r="3.95" fill="#dedede" stroke="#000" stroke-width="2.45"/>
<circle cx="258.97" cy="2054.7" r="3.95" fill="#dedede" stroke="#000" stroke-width="2.45"/>
<circle cx="281.58" cy="2030.7" r="3.95" fill="#dedede" stroke="#000" stroke-width="2.45"/>
<circle cx="315.49" cy="2029.8" r="3.95" fill="#dedede" stroke="#000" stroke-width="2.45"/>
<circle cx="372.01" cy="1990" r="3.95" fill="#dedede" stroke="#000" stroke-width="2.45"/>
<circle cx="428.53" cy="2040.8" r="3.95" fill="#dedede" stroke="#000" stroke-width="2.45"/>
<circle cx="485.05" cy="2071.6" r="3.95" fill="#dedede" stroke="#000" stroke-width="2.45"/>
<g fill="#000"><rect x="194.7" y="2075.85" width="16.9" height="16.9" rx="1.3"/><rect x="228.61" y="1836.65" width="16.9" height="16.9" rx="1.3"/><rect x="251.22" y="1834.35" width="16.9" height="16.9" rx="1.3"/><rect x="273.83" y="1825.15" width="16.9" height="16.9" rx="1.3"/><rect x="307.74" y="1837.15" width="16.9" height="16.9" rx="1.3"/><rect x="364.26" y="1850.15" width="16.9" height="16.9" rx="1.3"/><rect x="420.78" y="1825.15" width="16.9" height="16.9" rx="1.3"/><rect x="477.3" y="1863.25" width="16.9" height="16.9" rx="1.3"/><rect x="499.91" y="2032.75" width="16.9" height="16.9" rx="1.3"/><rect x="533.82" y="2078.05" width="16.9" height="16.9" rx="1.3"/></g>
<text transform="translate(346.8,1773.4) scale(1,1.045)" font-size="22.81" text-anchor="middle" font-weight="bold" font-style="italic" stroke="#000" stroke-width="0.4">Stryphnodendron guianense</text>
<text transform="translate(70.5,2094.1) scale(1,1.045)" font-size="23.3" text-anchor="end">0</text>
<text transform="translate(70.5,2042.62) scale(1,1.045)" font-size="23.3" text-anchor="end">20</text>
<text transform="translate(70.5,1991.14) scale(1,1.045)" font-size="23.3" text-anchor="end">40</text>
<text transform="translate(70.5,1939.66) scale(1,1.045)" font-size="23.3" text-anchor="end">60</text>
<text transform="translate(70.5,1888.18) scale(1,1.045)" font-size="23.3" text-anchor="end">80</text>
<text transform="translate(70.5,1836.7) scale(1,1.045)" font-size="23.3" text-anchor="end">100</text>
<text transform="translate(21.35,1946.2) rotate(-90) scale(1,1.045)" font-size="23" text-anchor="middle">Germination (%)</text>
<text transform="translate(89.8,2122.3) scale(1,1.045)" font-size="23.3" text-anchor="middle">0</text>
<text transform="translate(202.84,2122.3) scale(1,1.045)" font-size="23.3" text-anchor="middle">10</text>
<text transform="translate(315.88,2122.3) scale(1,1.045)" font-size="23.3" text-anchor="middle">20</text>
<text transform="translate(428.92,2122.3) scale(1,1.045)" font-size="23.3" text-anchor="middle">30</text>
<text transform="translate(541.96,2122.3) scale(1,1.045)" font-size="23.3" text-anchor="middle">40</text>
<text transform="translate(655,2122.3) scale(1,1.045)" font-size="23.3" text-anchor="middle">50</text>
<text transform="translate(373,2154.3) scale(1,1.045)" font-size="23" text-anchor="middle" font-weight="bold" stroke="#000" stroke-width="0.3">Temperature (°C)</text>
</g>
<g>
<rect x="872" y="1802.8" width="308.6" height="283.9" fill="url(#dg)"/>
<path d="M745.1 1804.3V2093.9M1310.3 1804.3V2093.9M737.9 2086.7H1317.5M737.9 2035.22H745.1M1310.3 2035.22H1317.5M737.9 1983.74H745.1M1310.3 1983.74H1317.5M737.9 1932.26H745.1M1310.3 1932.26H1317.5M737.9 1880.78H745.1M1310.3 1880.78H1317.5M737.9 1829.3H745.1M1310.3 1829.3H1317.5M858.14 2086.7V2093.9M971.18 2086.7V2093.9M1084.22 2086.7V2093.9M1197.26 2086.7V2093.9" stroke="#000" stroke-width="2.1" fill="none"/>
<path d="M891.65 1837.6V1913.5M887.15 1837.6H896.15M887.15 1913.5H896.15M914.26 1831.9V1858.9M909.76 1831.9H918.76M909.76 1858.9H918.76M936.87 1852.9V1873.5M932.37 1852.9H941.37M932.37 1873.5H941.37M1140.34 1832.3V1852.9M1135.84 1832.3H1144.84M1135.84 1852.9H1144.84M891.65 2060.9V2069M887.15 2060.9H896.15M887.15 2069H896.15M936.87 2054V2058M932.37 2054H941.37M932.37 2058H941.37M970.78 2035.2V2046.3M966.28 2035.2H975.28M966.28 2046.3H975.28M1027.3 1998.3V2024.1M1022.8 1998.3H1031.8M1022.8 2024.1H1031.8M1083.82 1975.8V1986.6M1079.32 1975.8H1088.32M1079.32 1986.6H1088.32M1140.34 1963.4V1975.4M1135.84 1963.4H1144.84M1135.84 1975.4H1144.84M1162.95 1937.3V1952.3M1158.45 1937.3H1167.45M1158.45 1952.3H1167.45" stroke="#000" stroke-width="1.15" stroke-linecap="round" fill="none"/>
<circle cx="891.8" cy="2064.8" r="3.95" fill="#dedede" stroke="#000" stroke-width="2.45"/>
<circle cx="914.41" cy="2057.9" r="3.95" fill="#dedede" stroke="#000" stroke-width="2.45"/>
<circle cx="937.02" cy="2056" r="3.95" fill="#dedede" stroke="#000" stroke-width="2.45"/>
<circle cx="970.93" cy="2040.8" r="3.95" fill="#dedede" stroke="#000" stroke-width="2.45"/>
<circle cx="1027.45" cy="2011.8" r="3.95" fill="#dedede" stroke="#000" stroke-width="2.45"/>
<circle cx="1083.97" cy="1981.2" r="3.95" fill="#dedede" stroke="#000" stroke-width="2.45"/>
<circle cx="1140.49" cy="1969.2" r="3.95" fill="#dedede" stroke="#000" stroke-width="2.45"/>
<circle cx="1163.1" cy="1945" r="3.95" fill="#dedede" stroke="#000" stroke-width="2.45"/>
<g fill="#000"><rect x="850.14" y="2068.55" width="16.9" height="16.9" rx="1.3"/><rect x="884.05" y="1868.15" width="16.9" height="16.9" rx="1.3"/><rect x="906.66" y="1837.15" width="16.9" height="16.9" rx="1.3"/><rect x="929.27" y="1855.35" width="16.9" height="16.9" rx="1.3"/><rect x="963.18" y="1821.45" width="16.9" height="16.9" rx="1.3"/><rect x="1019.7" y="1822.15" width="16.9" height="16.9" rx="1.3"/><rect x="1076.22" y="1821.45" width="16.9" height="16.9" rx="1.3"/><rect x="1132.74" y="1834.35" width="16.9" height="16.9" rx="1.3"/><rect x="1155.35" y="1821.45" width="16.9" height="16.9" rx="1.3"/><rect x="1189.26" y="2070.75" width="16.9" height="16.9" rx="1.3"/></g>
<text transform="translate(1048.75,1773.4) scale(1,1.045)" font-size="22.68" text-anchor="middle" font-weight="bold" font-style="italic" stroke="#000" stroke-width="0.4">Theobroma cacao</text>
<text transform="translate(1330.2,2094.1) scale(1,1.045)" font-size="23.3">0.0</text>
<text transform="translate(1330.2,2042.62) scale(1,1.045)" font-size="23.3">0.2</text>
<text transform="translate(1330.2,1991.14) scale(1,1.045)" font-size="23.3">0.4</text>
<text transform="translate(1330.2,1939.66) scale(1,1.045)" font-size="23.3">0.6</text>
<text transform="translate(1330.2,1888.18) scale(1,1.045)" font-size="23.3">0.8</text>
<text transform="translate(1330.2,1836.7) scale(1,1.045)" font-size="23.3">1.0</text>
<text transform="translate(1390,1945.3) rotate(-90) scale(1,1.045)" font-size="23" text-anchor="middle">G<tspan dx="0.9">R</tspan><tspan font-size="15.5" dy="4.9" dx="0.8" textLength="14.3" lengthAdjust="spacingAndGlyphs">50</tspan><tspan dy="-4.9" dx="0.9"> (1/t</tspan><tspan font-size="15.5" dy="4.9" textLength="14.3" lengthAdjust="spacingAndGlyphs">50</tspan><tspan dy="-4.9" dx="3.2">)</tspan></text>
<text transform="translate(745.3,2122.3) scale(1,1.045)" font-size="23.3" text-anchor="middle">0</text>
<text transform="translate(858.34,2122.3) scale(1,1.045)" font-size="23.3" text-anchor="middle">10</text>
<text transform="translate(971.38,2122.3) scale(1,1.045)" font-size="23.3" text-anchor="middle">20</text>
<text transform="translate(1084.42,2122.3) scale(1,1.045)" font-size="23.3" text-anchor="middle">30</text>
<text transform="translate(1197.46,2122.3) scale(1,1.045)" font-size="23.3" text-anchor="middle">40</text>
<text transform="translate(1310.5,2122.3) scale(1,1.045)" font-size="23.3" text-anchor="middle">50</text>
<text transform="translate(1028,2154.3) scale(1,1.045)" font-size="23" text-anchor="middle" font-weight="bold" stroke="#000" stroke-width="0.3">Temperature (°C)</text>
</g>
</g>
</svg></body></html>
